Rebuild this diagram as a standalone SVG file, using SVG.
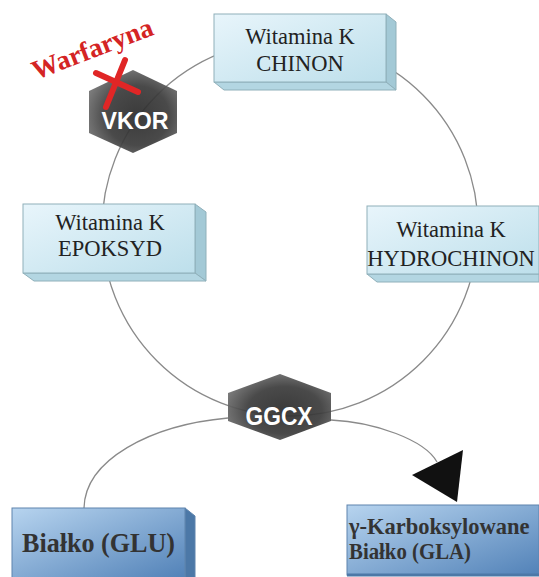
<svg xmlns="http://www.w3.org/2000/svg" width="539" height="577" viewBox="0 0 539 577">
<defs>
<linearGradient id="lb" x1="0" y1="0" x2="1" y2="1">
<stop offset="0" stop-color="#e8f5fb"/><stop offset="1" stop-color="#bddfeb"/>
</linearGradient>
<linearGradient id="db" x1="0" y1="0" x2="1" y2="1">
<stop offset="0" stop-color="#b7d4ef"/><stop offset="1" stop-color="#5282b8"/>
</linearGradient>
<radialGradient id="hx" cx="0.55" cy="0.55" r="0.6">
<stop offset="0" stop-color="#2c2c2c"/><stop offset="0.6" stop-color="#3c3c3c"/><stop offset="1" stop-color="#707070"/>
</radialGradient>
<style>
.link{fill:none;stroke:#8a8a8a;stroke-width:1.3}
.lf{fill:url(#lb);stroke:#8fb0ba;stroke-width:1}
.ls{fill:#a3c9d6;stroke:#8fb0ba;stroke-width:1}
.lbt{fill:#b3d6e2;stroke:#8fb0ba;stroke-width:1}
.df{fill:url(#db);stroke:#5f84ad;stroke-width:1}
.ds{fill:#4c78a7;stroke:#5f84ad;stroke-width:1}
.hex{fill:url(#hx);fill-opacity:0.93}
.vt{font-family:"Liberation Serif","Times New Roman",serif;font-size:22.5px;fill:#222;text-anchor:middle}
.bt{font-family:"Liberation Serif","Times New Roman",serif;font-weight:bold;fill:#333}
.ht{font-family:"Liberation Sans",Arial,sans-serif;font-weight:bold;fill:#fff;text-anchor:middle}
</style>
</defs>
<rect width="539" height="577" fill="#fff"/>
<g id="connectors">
<circle class="link" cx="290" cy="228" r="188"/>
<path class="link" d="M228,418 C150,425 85,460 84,508"/>
<path class="link" d="M331,420 C375,422 425,440 437,462"/>
<polygon points="412,475 463,450 457,502" fill="#111"/>
</g>
<g id="chinon">
<polygon class="ls" points="386,14 396,22 396,90 386,82"/>
<polygon class="lbt" points="214,82 386,82 396,90 224,90"/>
<rect class="lf" x="214" y="14" width="172" height="68"/>
<text class="vt" x="300" y="44">Witamina K</text>
<text class="vt" x="300" y="71">CHINON</text>
</g>
<g id="epoksyd">
<polygon class="ls" points="195,204 206,212 206,281 195,273"/>
<polygon class="lbt" points="23,273 195,273 206,281 34,281"/>
<rect class="lf" x="23" y="204" width="172" height="69"/>
<text class="vt" x="110" y="230">Witamina K</text>
<text class="vt" x="110" y="256">EPOKSYD</text>
</g>
<g id="hydrochinon">
<polygon class="lbt" points="367,274 539,274 539,282 377,282"/>
<rect class="lf" x="367" y="206" width="172" height="68"/>
<text class="vt" x="451" y="237">Witamina K</text>
<text class="vt" x="451" y="266">HYDROCHINON</text>
</g>
<g id="vkor">
<polygon class="hex" points="133,70 177,91 177,133 133,153 89,133 89,91"/>
<text class="ht" x="135" y="129" font-size="24" textLength="67" lengthAdjust="spacingAndGlyphs">VKOR</text>
</g>
<g id="warfaryna">
<text class="bt" x="0" y="0" font-size="27" style="fill:#d42424" transform="translate(36,80) rotate(-21)">Warfaryna</text>
<line x1="96" y1="73" x2="138" y2="92" stroke="#e02626" stroke-width="6" stroke-linecap="round"/>
<line x1="125" y1="60" x2="106" y2="107" stroke="#e02626" stroke-width="6" stroke-linecap="round"/>
</g>
<g id="ggcx">
<polygon class="hex" points="280,374 331,393 331,421 280,440 228,421 228,393"/>
<text class="ht" x="279" y="425" font-size="25" textLength="67" lengthAdjust="spacingAndGlyphs">GGCX</text>
</g>
<g id="glu">
<polygon class="ds" points="185,508 195,516 195,585 185,577"/>
<rect class="df" x="12" y="508" width="173" height="70"/>
<text class="bt" x="22" y="552" font-size="27" textLength="153" lengthAdjust="spacingAndGlyphs">Białko (GLU)</text>
</g>
<g id="gla">
<rect class="df" x="347" y="505" width="192" height="70"/>
<line x1="347" y1="575" x2="539" y2="575" stroke="#4c78a7" stroke-width="3"/>
<text class="bt" x="349" y="534" font-size="22.5">γ-Karboksylowane</text>
<text class="bt" x="349" y="559" font-size="22.5" textLength="122" lengthAdjust="spacingAndGlyphs">Białko (GLA)</text>
</g>
</svg>
